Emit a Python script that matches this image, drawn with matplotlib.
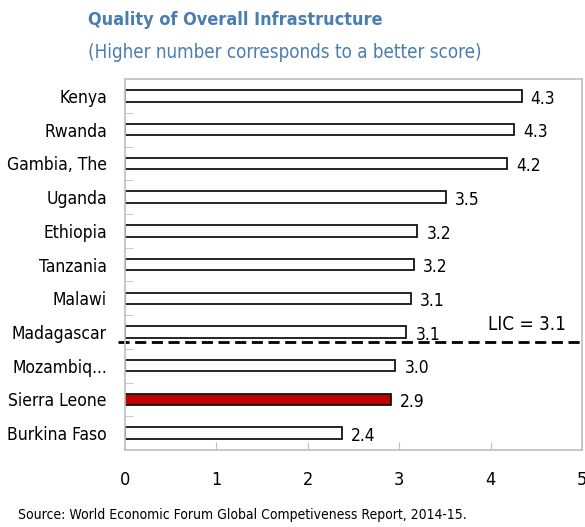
import numpy as np
import matplotlib as mpl
mpl.use('Agg')
import matplotlib.pyplot as plt

plt.rcParams['font.family'] = ['DejaVu Sans']
plt.rcParams['font.stretch'] = 'condensed'

countries = ['Kenya', 'Rwanda', 'Gambia, The', 'Uganda', 'Ethiopia', 'Tanzania',
             'Malawi', 'Madagascar', 'Mozambiq...', 'Sierra Leone', 'Burkina Faso']
scores = [4.34, 4.26, 4.18, 3.51, 3.20, 3.16, 3.13, 3.08, 2.96, 2.91, 2.37]
highlight = 'Sierra Leone'
lic_value = 3.1
lic_pos = 7.3  # between Madagascar and Mozambique

fig = plt.figure(figsize=(5.85, 5.27), dpi=100)
ax = fig.add_axes([0.2137, 0.146, 0.781, 0.704])

y = np.arange(len(countries))
colors = ['#c00000' if c == highlight else 'white' for c in countries]
ax.barh(y, scores, height=0.34, color=colors, edgecolor='black', linewidth=1.2)

for yi, v in zip(y, scores):
    ax.text(v + 0.1, yi + 0.08, '%.1f' % v, va='center', ha='left', fontsize=12.5)

ax.set_ylim(len(countries) - 0.5, -0.5)
ax.set_xlim(0, 5)
ax.set_yticks(y)
ax.set_yticklabels(countries, fontsize=12.5)
ax.set_yticks(np.arange(len(countries) - 1) + 0.5, minor=True)
ax.tick_params(axis='y', which='major', length=0, pad=13)
ax.tick_params(axis='y', which='minor', direction='in', length=6, color='#bfbfbf')
ax.set_xticks(np.arange(0, 6))
ax.tick_params(axis='x', direction='in', length=6, color='#bfbfbf', labelsize=13, pad=15)
for s in ax.spines.values():
    s.set_color('#bfbfbf')
    s.set_linewidth(1.2)

# LIC average line
ax.plot([-0.08, 5], [lic_pos, lic_pos], color='black', linestyle=(0, (4, 2)),
        linewidth=2, clip_on=False)
ax.text(4.82, lic_pos - 0.25, 'LIC = %.1f' % lic_value, ha='right', va='bottom', fontsize=13.5)

fig.text(0.150, 0.962, 'Quality of Overall Infrastructure', color='#4a7eb0',
         fontsize=13, fontweight='bold', va='center')
fig.text(0.150, 0.900, '(Higher number corresponds to a better score)', color='#4a7eb0',
         fontsize=13.5, va='center')
fig.text(0.030, 0.022, 'Source: World Economic Forum Global Competiveness Report, 2014-15.',
         fontsize=10, va='center')

fig.savefig('out.png', dpi=100)
